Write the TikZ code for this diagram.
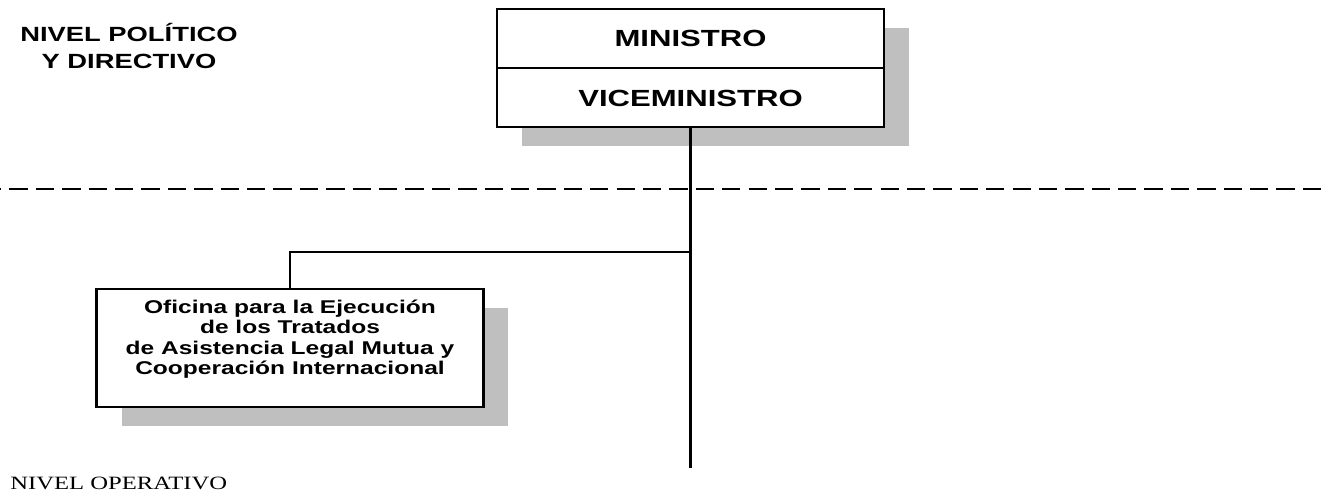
\documentclass[tikz,border=0pt]{standalone}
\usepackage{fontspec}
\setmainfont{Liberation Serif}[FakeStretch=1.31]
\newfontfamily\arialancha{Liberation Sans}[FakeStretch=1.33]
\usetikzlibrary{positioning, shadows}

\begin{document}
\begin{tikzpicture}[x = 0.02cm, y = -0.02cm,
    caja/.style={draw=black, fill=white, line width=1.3pt, minimum width=7.74cm, minimum height=2.36cm,
        drop shadow={shadow xshift=0.5cm, shadow yshift=-0.38cm, fill=black!25, opacity=1}},
    rotulo/.style={align=center, inner sep=0pt},
    linea/.style={line width=1.4pt}]

            \useasboundingbox (0,0) rectangle (1325,496);

            \draw[line width=1.7pt, dash pattern=on 0.366cm off 0.162cm, dash phase=0.338cm]
                (0,189) -- (1325,189);

            \node[rotulo, font=\arialancha\bfseries\fontsize{11.7}{15.4}\selectfont] (politico) at (129,46)
                {NIVEL POLÍTICO\\ Y DIRECTIVO};

            \node[caja] (cupula) at (690.5,68) {};
            \draw[line width=0.9pt] (cupula.west) -- (cupula.east);
            \node[rotulo, font=\arialancha\bfseries\fontsize{13.3}{16}\selectfont] (ministro) at (690.5,38) {MINISTRO};
            \node[rotulo, font=\arialancha\bfseries\fontsize{13.3}{16}\selectfont] (viceministro) at (690.5,98) {VICEMINISTRO};

            \node[caja] (oficina) at (290,348) {};
            \node[rotulo, font=\arialancha\bfseries\fontsize{10.5}{11.6}\selectfont] (oficinatxt) at (290,339)
                {Oficina para la Ejecución\\ de los Tratados\\ de Asistencia Legal Mutua y\\ Cooperación Internacional};

            \coordinate (rama) at (690.5,252);
            \coordinate (fin) at (690.5,468);
            \draw[linea] (cupula.south) -- (fin);
            \draw[linea] (rama) -| (oficina.north);

            \node[anchor=base west, inner sep=0pt, font=\fontsize{10.7}{12}\selectfont] (operativo) at (10,489)
                {NIVEL OPERATIVO};
        \end{tikzpicture}
\end{document}
